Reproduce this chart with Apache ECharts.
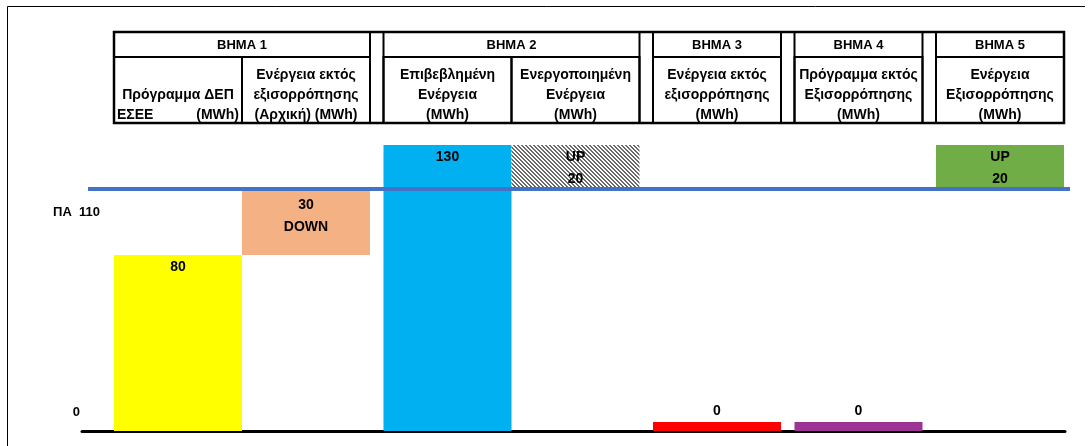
<!DOCTYPE html>
<html>
<head>
<meta charset="utf-8">
<script src="https://cdn.jsdelivr.net/npm/echarts@6/dist/echarts.min.js"></script>
<style>
html, body { margin: 0; padding: 0; background: #fff; }
#chart { width: 1088px; height: 446px; }
</style>
</head>
<body>
<div id="chart"></div>
<script>
// data
const steps = ['ΒΗΜΑ 1', 'ΒΗΜΑ 2', 'ΒΗΜΑ 3', 'ΒΗΜΑ 4', 'ΒΗΜΑ 5'];
const categories = [
  'Πρόγραμμα ΔΕΠ\nΕΣΕΕ           (MWh)',
  'Ενέργεια εκτός\nεξισορρόπησης\n(Αρχική) (MWh)',
  'Επιβεβλημένη\nΕνέργεια\n(MWh)',
  'Ενεργοποιημένη\nΕνέργεια\n(MWh)',
  'Ενέργεια εκτός\nεξισορρόπησης\n(MWh)',
  'Πρόγραμμα εκτός\nΕξισορρόπησης\n(MWh)',
  'Ενέργεια\nΕξισορρόπησης\n(MWh)'
];
const stepOf = [0, 0, 1, 1, 2, 3, 4];
const baseValues = [0, 80, 0, 110, 0, 0, 110];
const barValues = [80, 30, 130, 20, 0, 0, 20];
const directions = ['', 'DOWN', '', 'UP', '', '', 'UP'];
const paLevel = 110;
const yTicks = [0, 110];
const yTickLabels = ['0', 'ΠΑ  110'];

// layout / style
const BAR_W = 128;
const GAP = 13.5;
const FONT = '"Liberation Sans", Arial, sans-serif';
const TABLE_TOP = 32, STEP_ROW = 57, TABLE_BOTTOM = 123;

function makeHatch() {
  const c = document.createElement('canvas');
  c.width = 4; c.height = 4;
  const ctx = c.getContext('2d');
  ctx.fillStyle = '#fff';
  ctx.fillRect(0, 0, 4, 4);
  ctx.fillStyle = '#6a6a6a';
  for (let y = 0; y < 4; y++) {
    for (let x = 0; x < 4; x++) {
      if ((((x - y) % 4) + 4) % 4 < 2) ctx.fillRect(x, y, 1, 1);
    }
  }
  return c;
}
const barColors = ['#FFFF00', '#F4B183', '#00B0F0', { image: makeHatch(), repeat: 'repeat' }, '#FF0000', '#9E3396', '#70AD47'];

function slotStart(i) {
  return i * BAR_W + stepOf[i] * GAP;
}

function barLabel(i) {
  const v = barValues[i];
  if (directions[i] === 'UP') return 'UP\n' + v;
  if (directions[i] === 'DOWN') return v + '\nDOWN';
  return String(v);
}

function renderBar(params, api) {
  const i = api.value(0);
  const b = api.value(1);
  const v = api.value(2);
  const p0 = api.coord([slotStart(i), b]);
  const p1 = api.coord([slotStart(i) + BAR_W, b + v]);
  const zero = v === 0;
  const h = zero ? 9 : p0[1] - p1[1];
  // bars hanging from the ΠΑ line keep their label clear of it
  const dist = zero ? 0 : (b + v === paLevel ? 5 : 1);
  return {
    type: 'rect',
    shape: { x: p0[0], y: p0[1] - h, width: p1[0] - p0[0], height: h },
    style: { fill: barColors[i] },
    textContent: {
      style: {
        text: barLabel(i),
        font: 'bold 14px ' + FONT,
        fill: '#000',
        lineHeight: 22,
        align: 'center'
      }
    },
    textConfig: { position: zero ? 'top' : 'insideTop', distance: dist }
  };
}

function renderHeader(params, api) {
  const i = api.value(0);
  const x0 = api.coord([slotStart(i), 0])[0];
  const x1 = api.coord([slotStart(i) + BAR_W, 0])[0];
  const children = [];
  const line = { stroke: '#000', lineWidth: 2 };
  // column cell
  children.push({
    type: 'rect',
    shape: { x: x0, y: STEP_ROW, width: x1 - x0, height: TABLE_BOTTOM - STEP_ROW },
    style: Object.assign({ fill: 'none' }, line)
  });
  children.push({
    type: 'text',
    style: {
      text: categories[i],
      x: (x0 + x1) / 2,
      y: TABLE_BOTTOM + 2,
      align: 'center',
      verticalAlign: 'bottom',
      lineHeight: 20,
      font: 'bold 14px ' + FONT,
      fill: '#000'
    }
  });
  // step cell, drawn once per step
  const s = stepOf[i];
  if (stepOf.indexOf(s) === i) {
    const last = stepOf.lastIndexOf(s);
    const sx1 = api.coord([slotStart(last) + BAR_W, 0])[0];
    children.push({
      type: 'rect',
      shape: { x: x0, y: TABLE_TOP, width: sx1 - x0, height: TABLE_BOTTOM - TABLE_TOP },
      style: Object.assign({ fill: 'none' }, line)
    });
    children.push({
      type: 'line',
      shape: { x1: x0, y1: STEP_ROW, x2: sx1, y2: STEP_ROW },
      style: line
    });
    children.push({
      type: 'text',
      style: {
        text: steps[s],
        x: (x0 + sx1) / 2,
        y: (TABLE_TOP + STEP_ROW) / 2 + 1,
        align: 'center',
        verticalAlign: 'middle',
        font: 'bold 13px ' + FONT,
        fill: '#000'
      }
    });
  }
  // outer frame across all steps
  if (i === 0) {
    const ex = api.coord([slotStart(categories.length - 1) + BAR_W, 0])[0];
    children.push({
      type: 'rect',
      shape: { x: x0, y: TABLE_TOP, width: ex - x0, height: TABLE_BOTTOM - TABLE_TOP },
      style: { fill: 'none', stroke: '#000', lineWidth: 2.5 }
    });
  }
  return { type: 'group', children: children };
}

// reference level ΠΑ, drawn a little past the bars on both sides
function renderLevel(params, api) {
  const y = api.coord([0, api.value(0)])[1];
  const xa = api.coord([-26, 0])[0];
  const xb = api.coord([slotStart(categories.length - 1) + BAR_W + 6, 0])[0];
  return {
    type: 'line',
    shape: { x1: xa, y1: y, x2: xb, y2: y },
    style: { stroke: '#4472C4', lineWidth: 4 }
  };
}

const chart = echarts.init(document.getElementById('chart'));
const rows = categories.map((c, i) => [i, baseValues[i], barValues[i]]);

chart.setOption({
  animation: false,
  graphic: [
    { type: 'line', shape: { x1: 7.5, y1: 6.5, x2: 1085, y2: 6.5 }, style: { stroke: '#000', lineWidth: 1 } },
    { type: 'line', shape: { x1: 7.5, y1: 6.5, x2: 7.5, y2: 446 }, style: { stroke: '#000', lineWidth: 1 } }
  ],
  grid: { left: 82, right: 23, top: 145, bottom: 15, outerBoundsMode: 'none', containLabel: false },
  xAxis: {
    type: 'value',
    min: -32,
    max: 951,
    axisLine: { show: true, lineStyle: { color: '#000', width: 3 } },
    axisTick: { show: false },
    axisLabel: { show: false },
    splitLine: { show: false }
  },
  yAxis: {
    type: 'value',
    min: 0,
    max: 130,
    axisLine: { show: false },
    axisTick: { show: false },
    splitLine: { show: false },
    axisLabel: {
      customValues: yTicks,
      margin: -20,
      formatter: function (v) {
        const k = yTicks.indexOf(v);
        return k === 0 ? '{a|' + yTickLabels[k] + '}' : '{b|' + yTickLabels[k] + '}';
      },
      rich: {
        a: { fontFamily: FONT, fontSize: 13, fontWeight: 'bold', color: '#000', lineHeight: 14, padding: [0, 22, 38, 0] },
        b: { fontFamily: FONT, fontSize: 13, fontWeight: 'bold', color: '#000', lineHeight: 14, padding: [46, 2, 0, 0] }
      }
    }
  },
  series: [
    {
      type: 'custom',
      name: 'bars',
      renderItem: renderBar,
      data: rows,
      clip: false
    },
    {
      type: 'custom',
      name: 'header',
      renderItem: renderHeader,
      data: rows,
      silent: true,
      clip: false
    },
    {
      type: 'custom',
      name: 'ΠΑ',
      renderItem: renderLevel,
      data: [[paLevel]],
      silent: true,
      clip: false,
      z: 5
    }
  ]
});
</script>
</body>
</html>
